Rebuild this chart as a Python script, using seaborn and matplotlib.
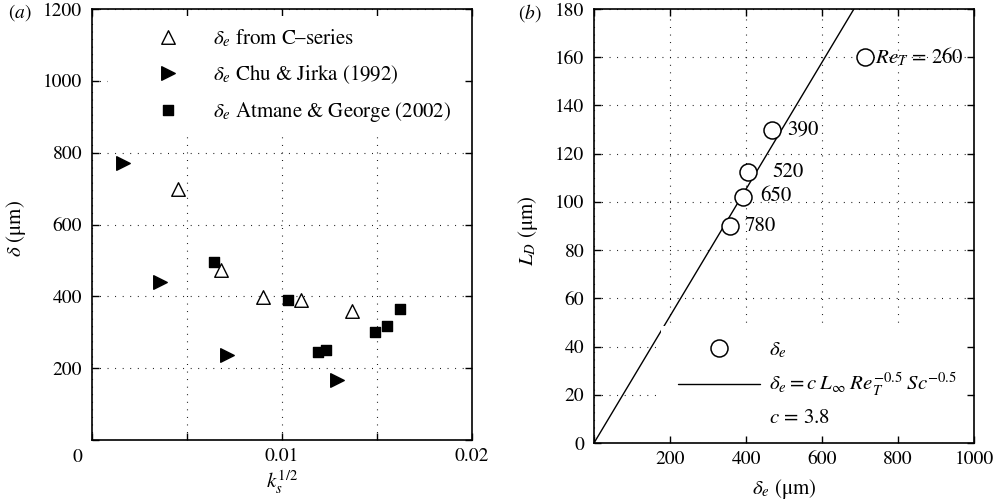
import matplotlib
matplotlib.use("Agg")
import matplotlib.pyplot as plt
from matplotlib.lines import Line2D
from matplotlib.patches import Rectangle
import seaborn as sns

# (a) viscous sublayer thickness against k_s^{1/2}
c_series_k = [0.0045, 0.0068, 0.0090, 0.0110, 0.0137]
c_series_delta = [700, 472, 397, 390, 360]
chu_k = [0.00165, 0.0036, 0.0071, 0.0129]
chu_delta = [770, 440, 237, 167]
atmane_k = [0.0064, 0.0103, 0.0119, 0.0123, 0.0149, 0.0155, 0.0162]
atmane_delta = [496, 391, 246, 250, 302, 317, 366]
legend_a = [r"$\delta_e$ from C–series",
            r"$\delta_e$ Chu & Jirka (1992)",
            r"$\delta_e$ Atmane & George (2002)"]

# (b) L_D against delta_e, one point per Re_T
re_t_labels = [r"$Re_T$ = 260", "390", "520", "650", "780"]
delta_e = [713, 468, 405, 393, 357]
l_d = [160, 130, 112.5, 102.2, 90]
c_fit = 3.8
l_d_fit = [0, 180]
legend_b = [r"$\delta_e$",
            r"$\delta_e = c\;L_\infty\;Re_T^{-0.5}\;Sc^{-0.5}$",
            r"$c$ = 3.8"]

sns.set_theme(style="ticks")
plt.rcParams.update({
    "font.family": ["STIXGeneral", "DejaVu Sans"],
    "mathtext.fontset": "stix",
    "font.size": 14,
    "axes.labelsize": 15,
    "xtick.labelsize": 14,
    "ytick.labelsize": 14,
    "legend.fontsize": 15,
    "axes.linewidth": 1.2,
    "axes.edgecolor": "black",
    "axes.labelcolor": "black",
    "text.color": "black",
    "xtick.color": "black",
    "ytick.color": "black",
    "xtick.direction": "in",
    "ytick.direction": "in",
    "xtick.top": True,
    "ytick.right": True,
    "xtick.major.size": 5,
    "ytick.major.size": 5,
    "xtick.major.width": 1,
    "ytick.major.width": 1,
    "xtick.major.pad": 5.5,
    "ytick.major.pad": 7,
})

W, H = 1004, 503
fig = plt.figure(figsize=(W / 100, H / 100), dpi=100)


def axes_px(left, top, right, bottom):
    return fig.add_axes([left / W, 1 - bottom / H, (right - left) / W, (bottom - top) / H])


ax1 = axes_px(92, 9, 472, 440)
ax2 = axes_px(594, 9, 974, 443)

grid_kw = dict(color="black", linestyle=(0, (0.8, 6.0)), linewidth=0.8)
for ax in (ax1, ax2):
    ax.set_axisbelow(True)
    ax.grid(True, **grid_kw)

# ---- panel (a) ----
tri_up = sns.scatterplot(x=c_series_k, y=c_series_delta, marker="^", s=95, color="white",
                         edgecolor="black", linewidth=1.0, ax=ax1, legend=False).collections[-1]
tri_right = sns.scatterplot(x=chu_k, y=chu_delta, marker=">", s=95, color="black",
                            edgecolor="black", linewidth=1.0, ax=ax1, legend=False).collections[-1]
squares = sns.scatterplot(x=atmane_k, y=atmane_delta, marker="s", s=58, color="black",
                          edgecolor="black", linewidth=1.0, ax=ax1, legend=False).collections[-1]

ax1.set_xlim(0, 0.02)
ax1.set_ylim(0, 1200)
ax1.set_xticks([0, 0.005, 0.01, 0.015, 0.02])
ax1.set_xticklabels(["", "", "0.01", "", "0.02"])
ax1.set_yticks(range(0, 1201, 200))
ax1.set_yticklabels([""] + [str(v) for v in range(200, 1201, 200)])
ax1.annotate("0", xy=(0, 0), xycoords="data", xytext=(-15, -17),
             textcoords="offset pixels", ha="center", va="center", fontsize=14)
ax1.set_xlabel(r"$k_s^{1/2}$")
ax1.set_ylabel(r"$\delta$ (μm)")
ax1.xaxis.label.set_va("center")
ax1.yaxis.label.set_va("center")
ax1.xaxis.set_label_coords(0.5, -42 / 431)
ax1.yaxis.set_label_coords(-76 / 380, 0.49)

ax1.add_patch(Rectangle((16 / 380, 1 - 128 / 431), 1 - 16 / 380 - 7 / 380, 128 / 431 - 7 / 431,
                        transform=ax1.transAxes, facecolor="white", edgecolor="none",
                        zorder=2.1))
ax1.legend([tri_up, tri_right, squares], legend_a, loc="upper left",
           bbox_to_anchor=((148.6 - 92) / 380, (440 - 28) / 431),
           bbox_transform=ax1.transAxes, frameon=False, borderpad=0, borderaxespad=0,
           handlelength=1.9, handletextpad=1.2, labelspacing=0.66,
           scatterpoints=1, scatteryoffsets=[0.5])

# ---- panel (b) ----
delta_fit = [c_fit * v for v in l_d_fit]
sns.lineplot(x=delta_fit, y=l_d_fit, color="black", linewidth=1.0, errorbar=None,
             ax=ax2, zorder=2)
fit_handle = ax2.lines[-1]
circles = sns.scatterplot(x=delta_e, y=l_d, marker="o", s=150, color="white",
                          edgecolor="black", linewidth=1.1, ax=ax2, legend=False,
                          zorder=3).collections[-1]

offsets = [10, 15, 24, 17, 15]
for lab, x, y, dx in zip(re_t_labels, delta_e, l_d, offsets):
    ax2.annotate(lab, xy=(x, y), xytext=(dx, 0), textcoords="offset pixels",
                 ha="left", va="center", fontsize=15)

ax2.set_xlim(0, 1000)
ax2.set_ylim(0, 180)
ax2.set_xticks(range(0, 1001, 200))
ax2.set_xticklabels([""] + [str(v) for v in range(200, 1001, 200)])
ax2.set_yticks(range(0, 181, 20))
ax2.set_xlabel(r"$\delta_e$ (μm)")
ax2.set_ylabel(r"$L_D$ (μm)")
ax2.xaxis.label.set_va("center")
ax2.yaxis.label.set_va("center")
ax2.xaxis.set_label_coords(0.5, -46 / 434)
ax2.yaxis.set_label_coords(-66 / 380, 0.488)

ax2.add_patch(Rectangle((66.5 / 380, 7 / 434), 1 - 66.5 / 380 - 7 / 380, 117 / 434 - 7 / 434,
                        transform=ax2.transAxes, facecolor="white", edgecolor="none",
                        zorder=2.1))
blank = Line2D([], [], linestyle="none", marker=None)
ax2.legend([circles, fit_handle, blank], legend_b, loc="upper left",
           bbox_to_anchor=((678 - 594) / 380, (443 - 341) / 434),
           bbox_transform=ax2.transAxes, frameon=False, borderpad=0, borderaxespad=0,
           handlelength=3.94, handletextpad=0.43, labelspacing=0.5,
           scatterpoints=1, scatteryoffsets=[0.5])

fig.text(8 / W, 1 - 13 / H, "($a$)", ha="left", va="center", fontsize=14)
fig.text(518 / W, 1 - 13 / H, "($b$)", ha="left", va="center", fontsize=14)

fig.savefig("out.png", dpi=100)
